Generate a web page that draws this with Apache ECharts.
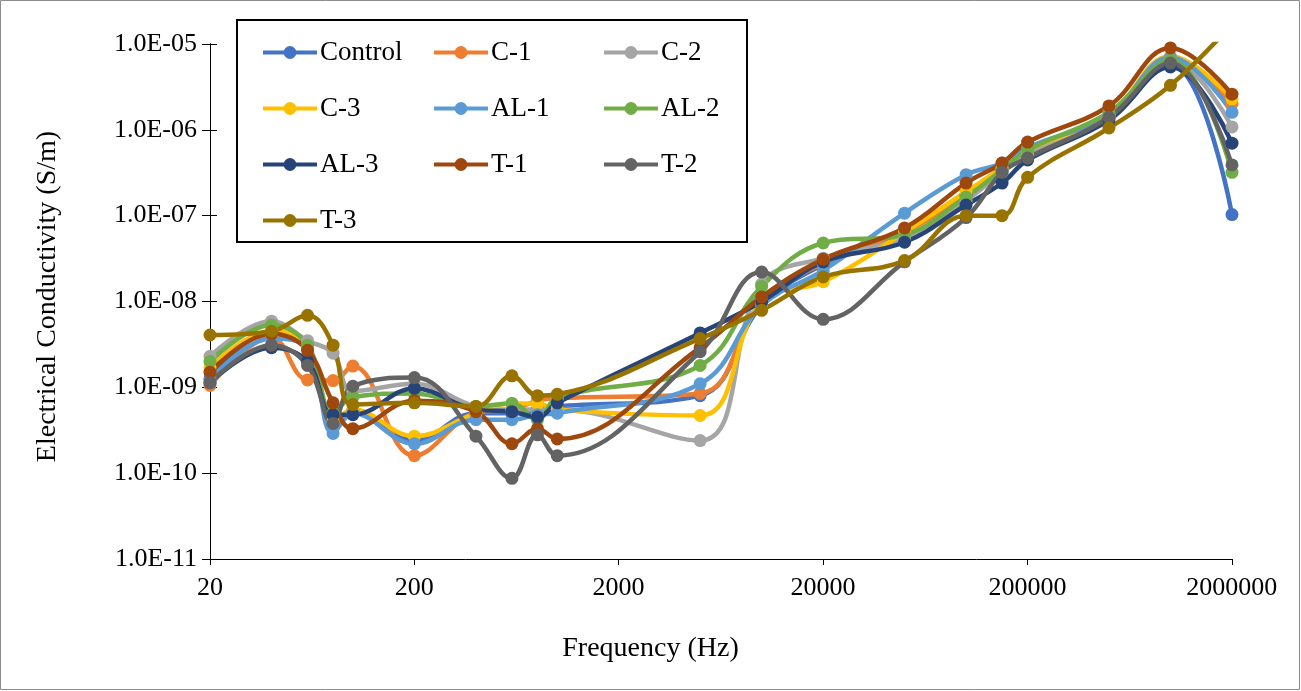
<!DOCTYPE html>
<html><head><meta charset="utf-8">
<script src="https://cdn.jsdelivr.net/npm/echarts@6/dist/echarts.min.js"></script>
<style>html,body{margin:0;padding:0;background:#fff}#c{width:1301px;height:691px}</style>
</head><body><div id="c"></div>
<script>
// Frequency (Hz) at which every series was measured
const frequencies = [20, 40, 60, 80, 100, 200, 400, 600, 800, 1000, 5000, 10000, 20000, 50000, 100000, 150000, 200000, 500000, 1000000, 2000000];

// Electrical conductivity (S/m)
const control = [1.26e-9, 4.4e-9, 3.1e-9, 3.8e-10, 5.4e-10, 2.4e-10, 5.0e-10, 5.0e-10, 5.5e-10, 6.0e-10, 8.0e-10, 9.0e-9, 2.7e-8, 7.0e-8, 1.74e-7, 3.4e-7, 5.8e-7, 1.5e-6, 5.7e-6, 1.03e-7];
const c1      = [1.05e-9, 3.8e-9, 1.22e-9, 1.2e-9, 1.77e-9, 1.6e-10, 5.0e-10, 5.5e-10, 7.0e-10, 7.5e-10, 8.5e-10, 1.0e-8, 2.8e-8, 6.5e-8, 1.7e-7, 3.6e-7, 5.1e-7, 1.37e-6, 7.0e-6, 2.0e-6];
const c2      = [2.3e-9, 5.9e-9, 3.5e-9, 2.5e-9, 9.0e-10, 1.1e-9, 6.0e-10, 5.5e-10, 5.5e-10, 5.5e-10, 2.4e-10, 1.6e-8, 3.2e-8, 5.5e-8, 1.5e-7, 3.2e-7, 5.1e-7, 1.5e-6, 6.5e-6, 1.08e-6];
const c3      = [1.7e-9, 4.5e-9, 3.0e-9, 4.0e-10, 5.5e-10, 2.7e-10, 5.0e-10, 6.5e-10, 6.5e-10, 5.5e-10, 4.7e-10, 1.0e-8, 1.7e-8, 6.4e-8, 1.9e-7, 3.6e-7, 5.8e-7, 1.5e-6, 7.2e-6, 2.3e-6];
const al1     = [1.2e-9, 3.7e-9, 2.8e-9, 2.9e-10, 5.0e-10, 2.2e-10, 4.2e-10, 4.2e-10, 4.8e-10, 5.0e-10, 1.1e-9, 9.0e-9, 2.3e-8, 1.07e-7, 3.0e-7, 4.1e-7, 6.2e-7, 1.5e-6, 7.0e-6, 1.6e-6];
const al2     = [2.0e-9, 5.3e-9, 3.1e-9, 5.0e-10, 7.7e-10, 8.5e-10, 6.0e-10, 6.5e-10, 4.2e-10, 7.5e-10, 1.8e-9, 1.5e-8, 4.8e-8, 6.0e-8, 1.65e-7, 3.4e-7, 5.8e-7, 1.6e-6, 6.5e-6, 3.2e-7];
const al3     = [1.13e-9, 2.9e-9, 2.0e-9, 4.8e-10, 4.8e-10, 9.7e-10, 5.5e-10, 5.2e-10, 4.5e-10, 6.6e-10, 4.3e-9, 1.0e-8, 2.9e-8, 4.9e-8, 1.33e-7, 2.4e-7, 4.45e-7, 1.3e-6, 5.4e-6, 7.0e-7];
const t1      = [1.5e-9, 4.2e-9, 2.7e-9, 6.6e-10, 3.3e-10, 7.0e-10, 5.2e-10, 2.2e-10, 3.3e-10, 2.5e-10, 2.9e-9, 1.13e-8, 3.1e-8, 7.2e-8, 2.4e-7, 4.1e-7, 7.2e-7, 1.9e-6, 9.0e-6, 2.6e-6];
const t2      = [1.13e-9, 3.1e-9, 1.8e-9, 3.8e-10, 1.03e-9, 1.3e-9, 2.7e-10, 8.7e-11, 2.8e-10, 1.6e-10, 2.6e-9, 2.2e-8, 6.2e-9, 2.9e-8, 9.5e-8, 3.2e-7, 4.7e-7, 1.4e-6, 6.0e-6, 3.9e-7];
const t3      = [4.07e-9, 4.5e-9, 6.9e-9, 3.1e-9, 6.3e-10, 6.6e-10, 6.0e-10, 1.36e-9, 8.0e-10, 8.3e-10, 3.7e-9, 7.9e-9, 1.93e-8, 3.0e-8, 1.0e-7, 1.0e-7, 2.8e-7, 1.05e-6, 3.3e-6, 1.7e-5];

const seriesNames = ['Control', 'C-1', 'C-2', 'C-3', 'AL-1', 'AL-2', 'AL-3', 'T-1', 'T-2', 'T-3'];
const seriesValues = [control, c1, c2, c3, al1, al2, al3, t1, t2, t3];
const seriesColors = ['#4472C4', '#ED7D31', '#A5A5A5', '#FFC000', '#5B9BD5', '#70AD47', '#264478', '#9E480E', '#636363', '#997300'];

const xTitle = 'Frequency (Hz)';
const yTitle = 'Electrical Conductivity (S/m)';

const FONT = "'Liberation Serif', 'Times New Roman', serif";

const chart = echarts.init(document.getElementById('c'), null, {renderer: 'canvas'});

function expLabel(v) {
  const e = Math.round(Math.log10(v));
  const s = e < 0 ? '-' : '+';
  return '1.0E' + s + String(Math.abs(e)).padStart(2, '0');
}
function freqLabel(v) {
  return String(Number(Number(v).toPrecision(3)));
}

const legendBase = {
  orient: 'vertical',
  top: 32,
  itemWidth: 54,
  itemHeight: 16,
  itemGap: 25,
  selectedMode: false,
  lineStyle: {width: 4},
  textStyle: {fontFamily: FONT, fontSize: 27, color: '#000', lineHeight: 31, padding: [0, 0, 0, -2]}
};

const yCommon = {type: 'log', logBase: 10, min: 1e-11, max: 1e-5, interval: 1, splitNumber: 6, position: 'left'};

const option = {
  animation: false,
  backgroundColor: '#fff',
  grid: {left: 210, right: 69, top: 44, bottom: 132, containLabel: false},
  xAxis: {
    type: 'log', logBase: 10, min: 20, max: 2000000, interval: 1,
    axisLine: {show: true, onZero: false, lineStyle: {color: '#000', width: 1}},
    axisTick: {show: true, length: 6, lineStyle: {color: '#000'}},
    axisLabel: {fontFamily: FONT, fontSize: 26, color: '#000', margin: 16, formatter: freqLabel},
    splitLine: {show: false}, minorTick: {show: false}
  },
  yAxis: [
    Object.assign({}, yCommon, {
      name: yTitle, nameLocation: 'middle', nameGap: 148, nameRotate: 90,
      nameTextStyle: {fontFamily: FONT, fontSize: 28, color: '#000', padding: [0, 0, 0, 10]},
      axisLine: {show: true, lineStyle: {color: '#000', width: 1}},
      axisTick: {show: true, length: 8, lineStyle: {color: '#000'}},
      axisLabel: {fontFamily: FONT, fontSize: 26, color: '#000', margin: 13, formatter: expLabel},
      splitLine: {show: false}
    }),
    Object.assign({}, yCommon, {
      offset: 0,
      axisLine: {show: true, lineStyle: {color: '#000', width: 1}},
      axisTick: {show: true, inside: true, length: 7, lineStyle: {color: '#000', width: 1}},
      axisLabel: {show: false},
      splitLine: {show: false}
    })
  ],
  legend: [
    Object.assign({}, legendBase, {left: 256, data: ['Control', 'C-3', 'AL-3', 'T-3']}),
    Object.assign({}, legendBase, {left: 427, data: ['C-1', 'AL-1', 'T-1']}),
    Object.assign({}, legendBase, {left: 597, data: ['C-2', 'AL-2', 'T-2']})
  ],
  graphic: [
    {type: 'rect', silent: true, z: -10,
     shape: {x: 0.5, y: 0.5, width: 1299, height: 689},
     style: {fill: 'none', stroke: '#8c8c8c', lineWidth: 1}},
    {type: 'rect', silent: true, z: 100,
     shape: {x: 237, y: 20, width: 510, height: 222},
     style: {fill: 'none', stroke: '#000', lineWidth: 2}},
    {type: 'text', silent: true, left: 'center', top: 635,
     style: {text: xTitle, font: "28px 'Liberation Serif', 'Times New Roman', serif", fill: '#000'}}
  ],
  series: seriesNames.map((name, i) => ({
    name: name,
    type: 'line',
    yAxisIndex: 0,
    data: frequencies.map((f, j) => [f, seriesValues[i][j]]),
    smooth: 0.4,
    symbol: 'circle',
    symbolSize: 13,
    showSymbol: true,
    showAllSymbol: true,
    clip: true,
    lineStyle: {width: 4.5, color: seriesColors[i]},
    itemStyle: {color: seriesColors[i]},
    emphasis: {disabled: true}
  }))
};

chart.setOption(option);
</script>
</body></html>
